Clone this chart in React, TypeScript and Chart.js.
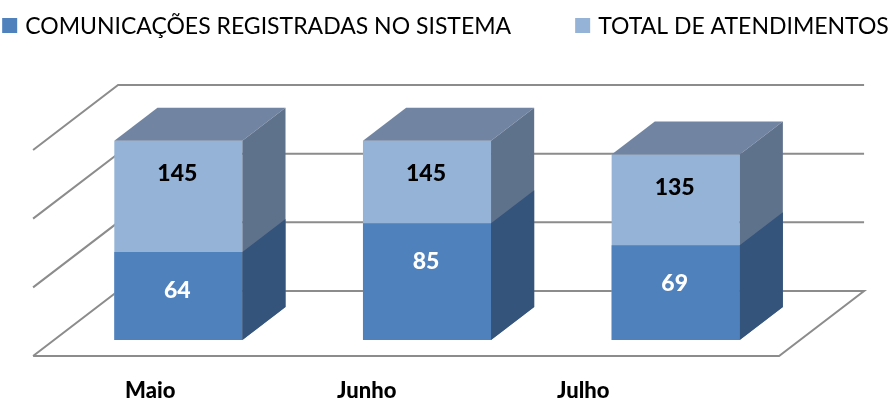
import React, { useEffect, useRef } from "react";
import { Chart, registerables } from "chart.js";

Chart.register(...registerables);

// ---- data ----
const CATEGORIES = ["Maio", "Junho", "Julho"];
const COMUNICACOES = [64, 85, 69];
const TOTAL_ATENDIMENTOS = [145, 145, 135];
const SERIES_LABELS = ["COMUNICAÇÕES REGISTRADAS NO SISTEMA", "TOTAL DE ATENDIMENTOS"];
const GRID_VALUES = [0, 50, 100, 150];

// ---- style ----
const FONT = "Lato, 'Open Sans', 'DejaVu Sans', sans-serif";
const COLORS = {
  comFront: "#4F81BD",
  comSide: "#34547C",
  totFront: "#95B3D7",
  totSide: "#5F728C",
  totTop: "#7185A2",
  grid: "#8C8C8C",
};
// 3D geometry (pixels)
const FLOOR_DX = 85;
const FLOOR_DY = 65;
const FRONT_FRAC = 16 / 65; // bars' front plane distance from floor front
const BAR_FRAC = 33 / 65; // bar depth as fraction of floor depth

const wallsPlugin = {
  id: "walls3d",
  beforeDatasetsDraw(chart: any) {
    const { ctx, chartArea: a, scales } = chart;
    const y = scales.y;
    const fdx = FLOOR_DX * FRONT_FRAC;
    const fdy = FLOOR_DY * FRONT_FRAC;
    const bdx = FLOOR_DX - fdx;
    const bdy = FLOOR_DY - fdy;
    ctx.save();
    ctx.strokeStyle = COLORS.grid;
    ctx.lineWidth = 2;
    GRID_VALUES.forEach((v, idx) => {
      const py = y.getPixelForValue(v);
      const fl = [a.left - fdx, py + fdy];
      const bl = [a.left + bdx, py - bdy];
      const br = [a.right + bdx, py - bdy];
      ctx.beginPath();
      ctx.moveTo(fl[0], fl[1]);
      ctx.lineTo(bl[0], bl[1]);
      ctx.lineTo(br[0], br[1]);
      if (idx === 0) {
        const fr = [a.right - fdx, py + fdy];
        ctx.lineTo(fr[0], fr[1]);
        ctx.lineTo(fl[0], fl[1]);
      }
      ctx.stroke();
    });
    ctx.restore();
  },
};

function poly(ctx: CanvasRenderingContext2D, pts: number[][], color: string) {
  ctx.beginPath();
  ctx.moveTo(pts[0][0], pts[0][1]);
  for (let i = 1; i < pts.length; i++) ctx.lineTo(pts[i][0], pts[i][1]);
  ctx.closePath();
  ctx.fillStyle = color;
  ctx.fill();
}

const barsPlugin = {
  id: "bars3d",
  afterDatasetsDraw(chart: any) {
    const { ctx } = chart;
    const ddx = FLOOR_DX * BAR_FRAC;
    const ddy = FLOOR_DY * BAR_FRAC;
    const metaCom = chart.getDatasetMeta(0);
    const metaTot = chart.getDatasetMeta(1);
    ctx.save();
    metaTot.data.forEach((bar: any, i: number) => {
      const p = bar.getProps(["x", "y", "base", "width"], true);
      const l = p.x - p.width / 2;
      const r = p.x + p.width / 2;
      poly(ctx, [[l, p.y], [l + ddx, p.y - ddy], [r + ddx, p.y - ddy], [r, p.y]], COLORS.totTop);
      poly(ctx, [[r, p.y], [r + ddx, p.y - ddy], [r + ddx, p.base - ddy], [r, p.base]], COLORS.totSide);
      const c = metaCom.data[i].getProps(["y", "base"], true);
      poly(ctx, [[r, c.y], [r + ddx, c.y - ddy], [r + ddx, c.base - ddy], [r, c.base]], COLORS.comSide);
    });

    // value labels
    ctx.font = `900 23px ${FONT}`;
    ctx.textAlign = "center";
    ctx.textBaseline = "middle";
    metaTot.data.forEach((bar: any, i: number) => {
      const t = bar.getProps(["x", "y"], true);
      const c = metaCom.data[i].getProps(["x", "y"], true);
      ctx.fillStyle = "#000000";
      ctx.fillText(String(chart.data.datasets[1].data[i]), t.x - 1, t.y + 33);
      ctx.fillStyle = "#FFFFFF";
      ctx.fillText(String(chart.data.datasets[0].data[i]), c.x - 1, c.y + 38);
    });
    ctx.restore();
  },
};

const labelsPlugin = {
  id: "labels3d",
  afterDraw(chart: any) {
    const { ctx, chartArea: a, scales, data, width } = chart;
    const x = scales.x;
    ctx.save();
    // category labels (perspective-compressed along the front)
    ctx.font = `900 22px ${FONT}`;
    ctx.fillStyle = "#000000";
    ctx.textAlign = "center";
    ctx.textBaseline = "middle";
    data.labels.forEach((lab: string, i: number) => {
      const cx = x.getPixelForValue(i);
      const lx = a.left - 12 + (cx - a.left) * 0.8706;
      ctx.fillText(lab, lx, a.bottom + 51);
    });

    // legend
    const box = 15;
    const gap = 8;
    const itemGap = 64;
    ctx.font = `23px ${FONT}`;
    ctx.textAlign = "left";
    const items = data.datasets.map((ds: any) => ({
      text: ds.label as string,
      color: ds.backgroundColor as string,
      w: box + gap + ctx.measureText(ds.label).width,
    }));
    const total = items.reduce((s: number, it: any) => s + it.w, 0) + itemGap * (items.length - 1);
    let cur = (width - total) / 2;
    const cy = 25.5;
    items.forEach((it: any) => {
      ctx.fillStyle = it.color;
      ctx.fillRect(cur, cy - box / 2, box, box);
      ctx.fillStyle = "#000000";
      ctx.fillText(it.text, cur + box + gap, cy + 1);
      cur += it.w + itemGap;
    });
    ctx.restore();
  },
};

export default function App() {
  const ref = useRef<HTMLCanvasElement | null>(null);
  useEffect(() => {
    if (!ref.current) return;
    const chart = new Chart(ref.current, {
      type: "bar",
      data: {
        labels: CATEGORIES,
        datasets: [
          {
            label: SERIES_LABELS[0],
            data: COMUNICACOES,
            backgroundColor: COLORS.comFront,
            grouped: false,
            categoryPercentage: 1,
            barPercentage: 0.515,
          },
          {
            label: SERIES_LABELS[1],
            data: TOTAL_ATENDIMENTOS,
            backgroundColor: COLORS.totFront,
            grouped: false,
            categoryPercentage: 1,
            barPercentage: 0.515,
          },
        ],
      },
      options: {
        responsive: false,
        animation: false,
        layout: { padding: { left: 54, right: 91, top: 134, bottom: 63 } },
        plugins: { legend: { display: false }, tooltip: { enabled: false } },
        scales: {
          x: { display: false, offset: true, grid: { display: false } },
          y: { display: false, min: 0, max: 150, grid: { display: false } },
        },
      } as any,
      plugins: [wallsPlugin, barsPlugin, labelsPlugin],
    });
    return () => chart.destroy();
  }, []);
  return (
    <div style={{ position: "fixed", left: 0, top: 0, width: 891, height: 403, background: "#fff" }}>
      <canvas ref={ref} width={891} height={403} style={{ width: 891, height: 403, display: "block" }} />
    </div>
  );
}
